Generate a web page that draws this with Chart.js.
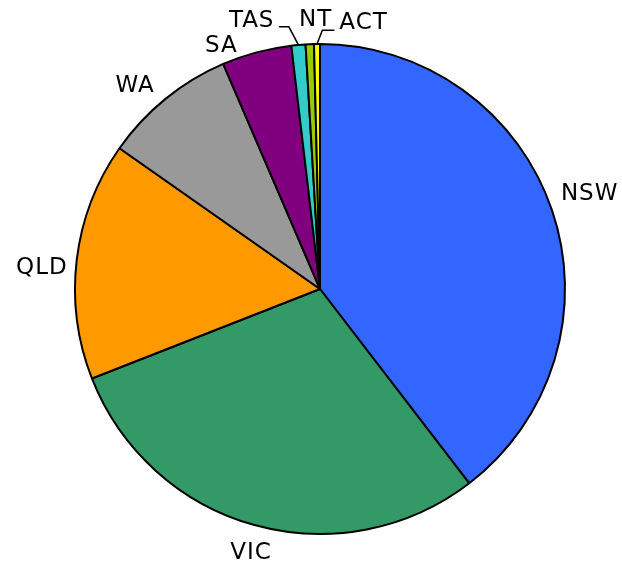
<!DOCTYPE html>
<html lang="en">
<head>
  <meta charset="utf-8">
  <title>Share by state</title>
  <style>
    html, body { margin: 0; padding: 0; background: #fff; }
    #pieCanvas { display: block; }
  </style>
</head>
<body>
<canvas id="pieCanvas" width="622" height="564"></canvas>
<script src="https://cdn.jsdelivr.net/npm/chart.js"></script>
<script>

   // values (share of the whole, %)
   const states = ['NSW', 'VIC', 'QLD', 'WA', 'SA', 'TAS', 'NT', 'ACT'];
   const shares = [39.6, 29.5, 15.7, 8.8, 4.6, 0.93, 0.55, 0.39];
   const sliceColours = ['#3366ff', '#339966', '#ff9900', '#999999', '#800080', '#33cccc', '#99cc00', '#ffff00'];

   // labels sit just outside the rim; a few get pushed aside to stop overlaps
   const labelNudge = {
      NSW: [1, -12], VIC: [4, 6], QLD: [1, 8], WA: [-11, 1],
      SA: [-28, 11], TAS: [-45, -6], NT: [8, -6], ACT: [47, -3]
   };
   const leaderLabels = ['TAS', 'ACT'];

   const outsideLabels = {
      id: 'outsideLabels',
      afterDatasetsDraw(chart) {
         const ctx = chart.ctx;
         const meta = chart.getDatasetMeta(0);
         const fontSize = 23;
         const capH = 16.5;
         const gap = 12;
         ctx.save();
         ctx.font = fontSize + 'px "DejaVu Sans"';
         if ('letterSpacing' in ctx) ctx.letterSpacing = '1px';
         ctx.fillStyle = '#000';
         ctx.strokeStyle = '#000';
         ctx.lineWidth = 1.5;
         ctx.textAlign = 'left';
         meta.data.forEach(function(arc, i) {
            const p = arc.getProps(['x', 'y', 'startAngle', 'endAngle', 'outerRadius'], true);
            const mid = (p.startAngle + p.endAngle) / 2;
            const dx = Math.cos(mid), dy = Math.sin(mid);
            const text = chart.data.labels[i];
            const m = ctx.measureText(text);
            const inkW = m.actualBoundingBoxLeft + m.actualBoundingBoxRight;
            const nudge = labelNudge[text] || [0, 0];
            const ax = p.x + dx * (p.outerRadius + gap);
            const ay = p.y + dy * (p.outerRadius + gap);
            const cx = ax + dx * inkW / 2 + nudge[0];
            const cy = ay + dy * capH / 2 + nudge[1];
            ctx.fillText(text, cx - inkW / 2 + m.actualBoundingBoxLeft, cy + capH / 2);

            if (leaderLabels.indexOf(text) >= 0) {
               const sx = p.x + dx * p.outerRadius;
               const sy = p.y + dy * p.outerRadius;
               let edgeX, elbowX, lineY;
               if (cx < sx) {
                  edgeX = cx + inkW / 2 + 6;
                  elbowX = edgeX + 10;
                  lineY = cy + 8;
               } else {
                  edgeX = cx - inkW / 2 - 5;
                  elbowX = edgeX - 12;
                  lineY = cy + 9.5;
               }
               ctx.beginPath();
               ctx.moveTo(sx, sy);
               ctx.lineTo(elbowX, lineY);
               ctx.lineTo(edgeX, lineY);
               ctx.stroke();
            }
         });
         ctx.restore();
      }
   };

   new Chart(document.getElementById('pieCanvas'), {
      type: 'pie',
      data: {
         labels: states,
         datasets: [{
            data: shares,
            backgroundColor: sliceColours,
            borderColor: '#000',
            borderWidth: 2,
            radius: 245
         }]
      },
      options: {
         responsive: false,
         animation: false,
         layout: { padding: { left: 18, top: 14, right: 0, bottom: 0 } },
         plugins: {
            legend: { display: false },
            tooltip: { enabled: false }
         }
      },
      plugins: [outsideLabels]
   });

</script>
</body>
</html>
